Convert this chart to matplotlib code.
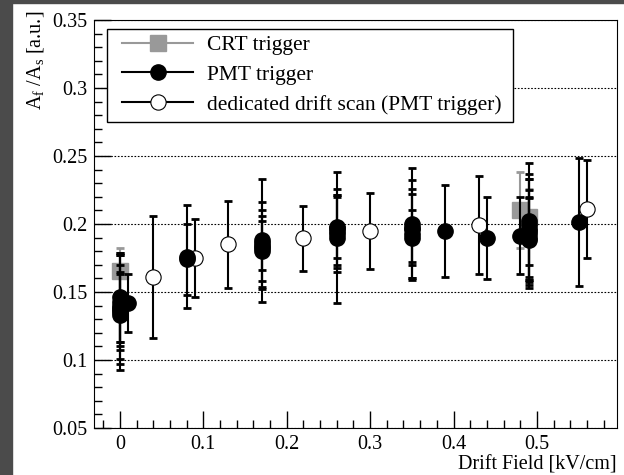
import numpy as np
import matplotlib
matplotlib.use("Agg")
import matplotlib.pyplot as plt
from matplotlib.lines import Line2D
from matplotlib.patches import Rectangle
from matplotlib.ticker import MultipleLocator

plt.rcParams['font.family'] = ['Liberation Serif', 'DejaVu Serif']
plt.rcParams['mathtext.fontset'] = 'custom'
plt.rcParams['mathtext.rm'] = 'Liberation Serif'

# CRT trigger
crt_x = [0.0, 0.48, 0.49]
crt_y = [0.1655, 0.210, 0.2055]
crt_err = [0.017, 0.028, 0.020]

# PMT trigger (many runs, overlapping at the same field)
pmt_x = [0.0, 0.0, 0.0, 0.0, 0.0, 0.0, 0.0, 0.01,
         0.08, 0.08,
         0.17, 0.17, 0.17, 0.17, 0.17,
         0.26, 0.26, 0.26, 0.26, 0.26,
         0.35, 0.35, 0.35, 0.35, 0.35,
         0.39, 0.44, 0.48,
         0.49, 0.49, 0.49, 0.49, 0.49, 0.49, 0.49,
         0.55]
pmt_y = [0.146, 0.143, 0.140, 0.137, 0.135, 0.133, 0.138, 0.142,
         0.176, 0.174,
         0.188, 0.184, 0.182, 0.186, 0.180,
         0.190, 0.197, 0.195, 0.193, 0.198,
         0.200, 0.196, 0.193, 0.197, 0.190,
         0.195, 0.1895, 0.1915,
         0.202, 0.199, 0.196, 0.193, 0.190, 0.188, 0.195,
         0.2015]
pmt_err = [0.033, 0.036, 0.030, 0.040, 0.042, 0.032, 0.025, 0.0215,
           0.038, 0.026,
           0.045, 0.032, 0.028, 0.020, 0.022,
           0.048, 0.029, 0.025, 0.028, 0.023,
           0.041, 0.036, 0.033, 0.025, 0.020,
           0.034, 0.030, 0.028,
           0.043, 0.038, 0.037, 0.040, 0.035, 0.031, 0.025,
           0.047]

# dedicated drift scan (PMT trigger)
scan_x = [0.04, 0.09, 0.13, 0.22, 0.30, 0.43, 0.56]
scan_y = [0.161, 0.175, 0.185, 0.1895, 0.195, 0.199, 0.211]
scan_err = [0.045, 0.0285, 0.032, 0.024, 0.028, 0.036, 0.036]

grey = '#999999'

fig = plt.figure(figsize=(6.24, 4.75), dpi=100)
fig.patch.set_facecolor('white')
# dark frame strips of the original screenshot
fig.patches.append(Rectangle((0, 0), 12 / 624, 1, transform=fig.transFigure,
                             color='#4b4b4b', zorder=-1))
fig.patches.append(Rectangle((0, 1 - 3 / 475), 1, 3 / 475, transform=fig.transFigure,
                             color='#4b4b4b', zorder=-1))

ax = fig.add_axes([94 / 624, 47 / 475, 523 / 624, 408 / 475])

ax.errorbar(crt_x, crt_y, yerr=crt_err, fmt='none', ecolor=grey,
            elinewidth=1.5, capsize=3, capthick=2, zorder=2)
ax.plot(crt_x, crt_y, 's', color=grey, markersize=11, zorder=2)

ax.errorbar(scan_x, scan_y, yerr=scan_err, fmt='none', ecolor='k',
            elinewidth=1.5, capsize=3, capthick=2, zorder=3)
ax.plot(scan_x, scan_y, 'o', mfc='white', mec='k', mew=0.8, markersize=11, zorder=3)

ax.errorbar(pmt_x, pmt_y, yerr=pmt_err, fmt='none', ecolor='k',
            elinewidth=1.5, capsize=3, capthick=2, zorder=4)
ax.plot(pmt_x, pmt_y, 'o', color='k', markersize=11, zorder=4)

ax.set_xlim(-0.031, 0.596)
ax.set_ylim(0.05, 0.35)
ax.xaxis.set_major_locator(MultipleLocator(0.1))
ax.xaxis.set_minor_locator(MultipleLocator(0.02))
ax.yaxis.set_major_locator(MultipleLocator(0.05))
ax.yaxis.set_minor_locator(MultipleLocator(0.01))
ax.tick_params(which='both', direction='in', top=False, right=False, labelsize=14.5)
ax.tick_params(which='major', length=12, width=1)
ax.tick_params(which='minor', length=6, width=1)
ax.tick_params(axis='y', pad=5)
ax.tick_params(axis='x', pad=5)
ax.xaxis.set_major_formatter(plt.FuncFormatter(lambda v, p: '%g' % round(v, 2)))
ax.yaxis.set_major_formatter(plt.FuncFormatter(lambda v, p: '%g' % round(v, 2)))
ax.grid(axis='y', which='major', color='k', linestyle=(0, (1.5, 1.5)), linewidth=0.8)
ax.set_axisbelow(True)

fig.text(617 / 624, 1 - 465 / 475, 'Drift Field [kV/cm]', ha='right', va='center',
         fontsize=14.5)
fig.text(36 / 624, 1 - 11 / 475, r'$\mathrm{A_{f}}$ /$\mathrm{A_{s}}$ [a.u.]',
         rotation=90, ha='center', va='top', fontsize=14.5)

# legend frame drawn separately so the padding can be matched
ax.add_patch(Rectangle((0.0249, 0.75), 0.776, 0.228, transform=ax.transAxes,
                       facecolor='white', edgecolor='k', linewidth=1, zorder=5))

handles = [
    Line2D([], [], color=grey, marker='s', markersize=11, lw=1.5),
    Line2D([], [], color='k', marker='o', markersize=11, lw=1.5),
    Line2D([], [], color='k', marker='o', mfc='white', mec='k', mew=0.8,
           markersize=11, lw=1.5),
]
labels = ['CRT trigger', 'PMT trigger', 'dedicated drift scan (PMT trigger)']
leg = ax.legend(handles, labels, loc='upper left',
                bbox_to_anchor=(0.0535, 0.963), borderaxespad=0, borderpad=0,
                fontsize=15.5, handlelength=3.3, handletextpad=0.65,
                labelspacing=0.45, numpoints=1, frameon=False)
leg.set_zorder(6)

fig.savefig('out.png', dpi=100)
